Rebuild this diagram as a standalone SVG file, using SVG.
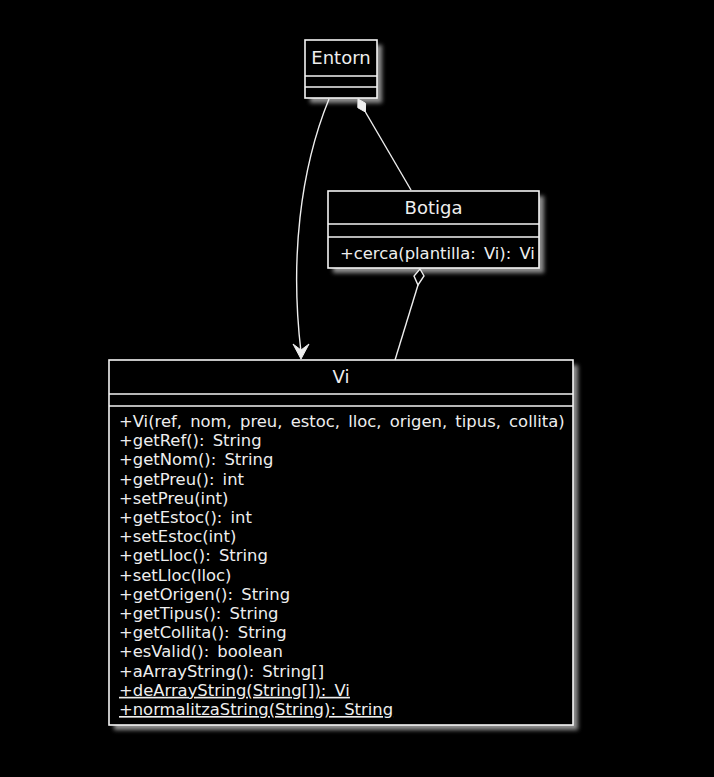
<svg xmlns="http://www.w3.org/2000/svg" width="714" height="777" viewBox="0 0 714 777">
  <style>
    .box { fill: #000; stroke: #f4f4f4; stroke-width: 1.6; }
    .sep { stroke: #f4f4f4; stroke-width: 1.6; }
    .shadow { fill: #8f8f8f; filter: url(#blur); }
    .title { font-family: "DejaVu Sans", sans-serif; font-size: 18px; fill: #eeeeee; text-anchor: middle; }
    .mem { font-family: "DejaVu Sans", sans-serif; font-size: 16.4px; word-spacing: 3px; fill: #eeeeee; }
    .edge { fill: none; stroke: #eeeeee; stroke-width: 1.4; }
  </style>
  <defs>
    <filter id="blur" x="-10%" y="-10%" width="120%" height="120%">
      <feGaussianBlur stdDeviation="2"/>
    </filter>
  </defs>
  <rect x="0" y="0" width="714" height="777" fill="#000"/>

  <g id="Entorn">
    <rect class="shadow" x="310" y="45" width="72" height="58"/>
    <rect class="box" x="305" y="40" width="72" height="58"/>
    <line class="sep" x1="305" y1="76" x2="377" y2="76"/>
    <line class="sep" x1="305" y1="87" x2="377" y2="87"/>
    <text class="title" x="341" y="64">Entorn</text>
  </g>

  <g id="Botiga">
    <rect class="shadow" x="333" y="196" width="211" height="77"/>
    <rect class="box" x="328" y="191" width="211" height="77"/>
    <line class="sep" x1="328" y1="224" x2="539" y2="224"/>
    <line class="sep" x1="328" y1="237" x2="539" y2="237"/>
    <text class="title" x="433.5" y="214">Botiga</text>
    <text class="mem" x="340" y="259">+cerca(plantilla: Vi): Vi</text>
  </g>

  <g id="Vi">
    <rect class="shadow" x="114" y="365" width="464" height="365"/>
    <rect class="box" x="109" y="360" width="464" height="365"/>
    <line class="sep" x1="109" y1="394" x2="573" y2="394"/>
    <line class="sep" x1="109" y1="406" x2="573" y2="406"/>
    <text class="title" x="341" y="383">Vi</text>
    <text class="mem" x="119" y="427">+Vi(ref, nom, preu, estoc, lloc, origen, tipus, collita)</text>
    <text class="mem" x="119" y="446.2">+getRef(): String</text>
    <text class="mem" x="119" y="465.4">+getNom(): String</text>
    <text class="mem" x="119" y="484.6">+getPreu(): int</text>
    <text class="mem" x="119" y="503.8">+setPreu(int)</text>
    <text class="mem" x="119" y="523">+getEstoc(): int</text>
    <text class="mem" x="119" y="542.2">+setEstoc(int)</text>
    <text class="mem" x="119" y="561.4">+getLloc(): String</text>
    <text class="mem" x="119" y="580.6">+setLloc(lloc)</text>
    <text class="mem" x="119" y="599.8">+getOrigen(): String</text>
    <text class="mem" x="119" y="619">+getTipus(): String</text>
    <text class="mem" x="119" y="638.2">+getCollita(): String</text>
    <text class="mem" x="119" y="657.4">+esValid(): boolean</text>
    <text class="mem" x="119" y="676.6">+aArrayString(): String[]</text>
    <text class="mem" x="119" y="695.8" text-decoration="underline">+deArrayString(String[]): Vi</text>
    <text class="mem" x="119" y="715" text-decoration="underline">+normalitzaString(String): String</text>
  </g>

  <g id="connectors">
    <path class="edge" d="M329,99 C300,170 290,260 301,352"/>
    <polygon points="301,359 293,344 301,350 309,344" fill="#eeeeee" stroke="#eeeeee" stroke-width="1"/>
    <line class="edge" x1="365.4" y1="112" x2="411" y2="190"/>
    <polygon points="358,99 365.6,103.3 365.4,112 357.8,107.7" fill="#eeeeee" stroke="#eeeeee" stroke-width="1"/>
    <line class="edge" x1="418" y1="285" x2="395" y2="360"/>
    <polygon points="420,269 424,276 418,285 414,276" fill="#000" stroke="#eeeeee" stroke-width="1.4"/>
  </g>
</svg>
